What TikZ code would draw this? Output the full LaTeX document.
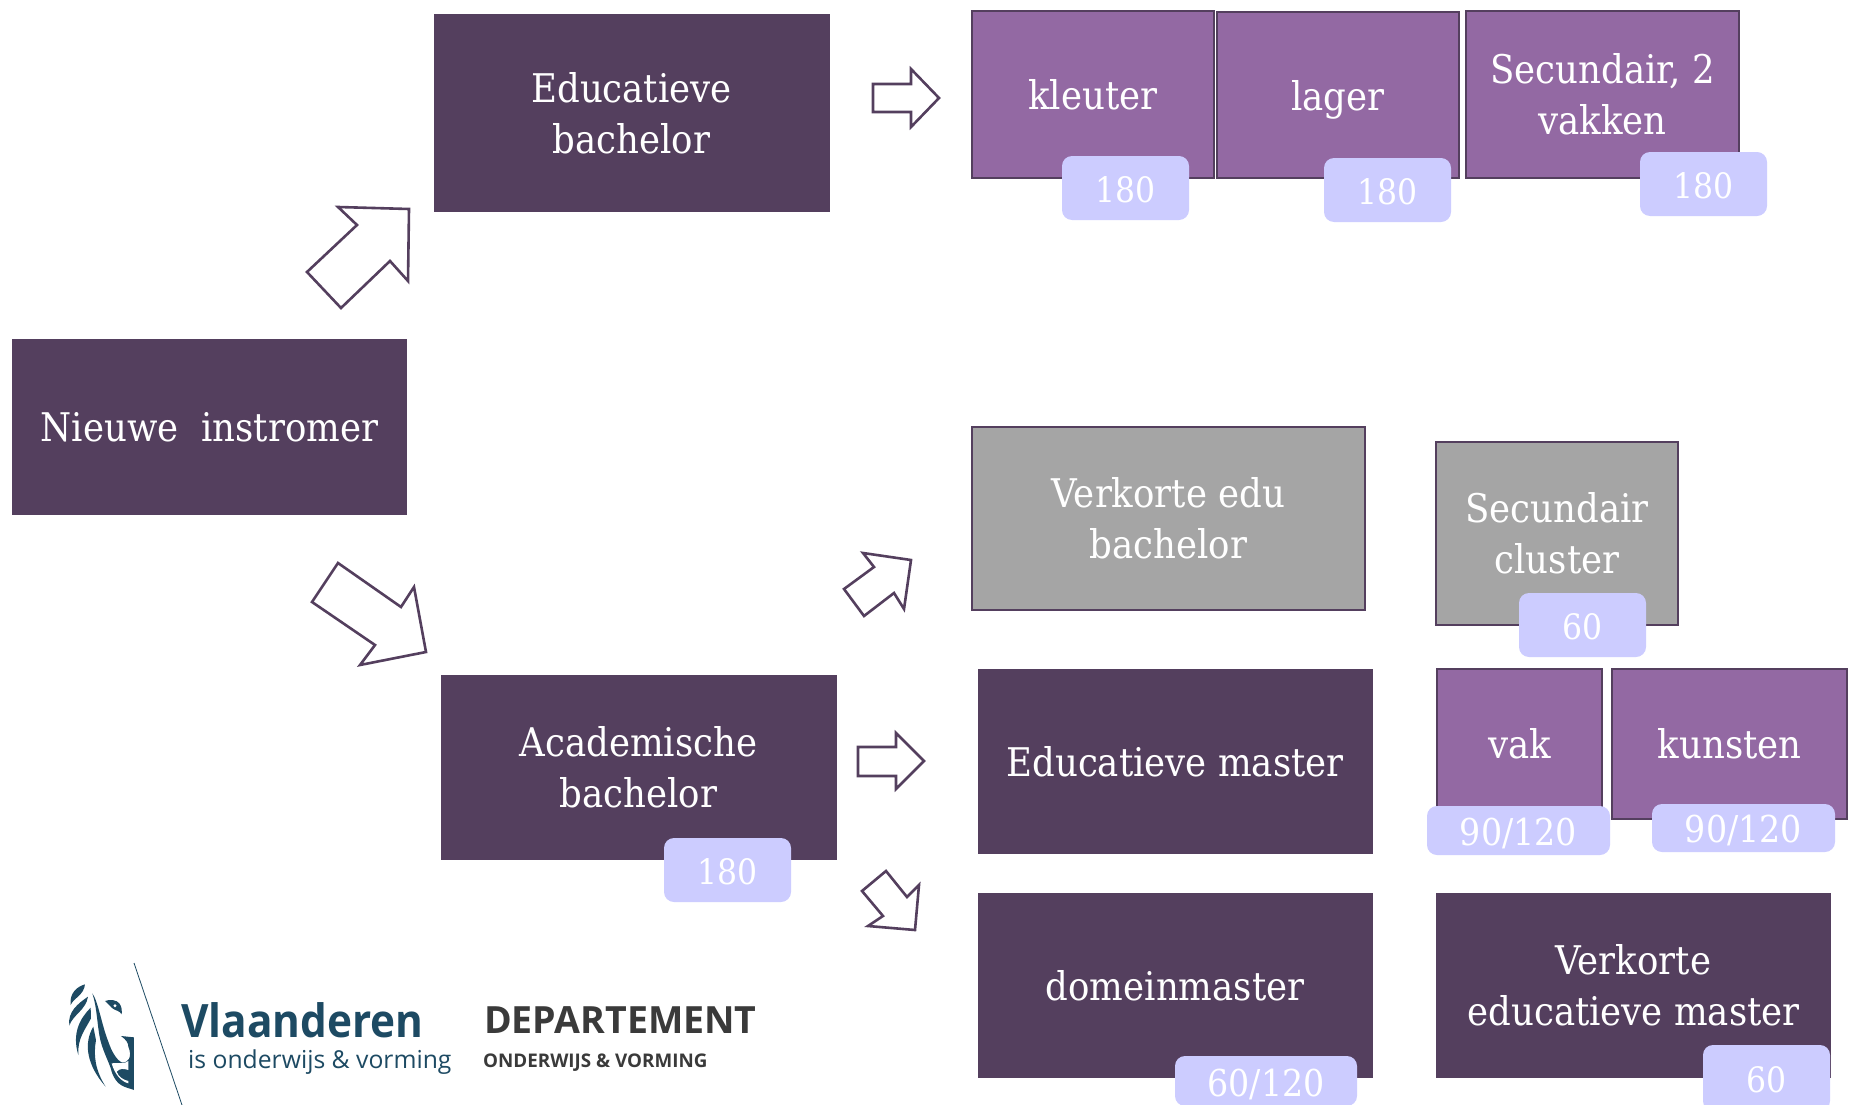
\documentclass[tikz,border=0pt]{standalone}
\usepackage{fontspec}
\setmainfont{DejaVu Serif Condensed}
\newfontfamily\logofont{Open Sans}
\newfontfamily\logonarrow[FakeStretch=0.92]{Open Sans}
\definecolor{dark}{HTML}{543F5E}
\definecolor{mid}{HTML}{9369A3}
\definecolor{grayb}{HTML}{A5A5A5}
\definecolor{badgec}{HTML}{CCCCFF}
\definecolor{logoc}{HTML}{1D4A63}
\definecolor{depc}{HTML}{3A3A3A}
\newcommand{\lowr}[2]{\raisebox{-#1pt}[\height][\depth]{#2}}
\tikzset{
  boxbase/.style={anchor=north west,inner sep=0pt,outer sep=0pt,text=white,align=center,font=\fontsize{39.5}{51}\selectfont},
  darkbox/.style={boxbase,fill=dark},
  midbox/.style={boxbase,fill=mid,draw=dark,line width=2.6pt},
  graybox/.style={boxbase,fill=grayb,draw=dark,line width=2.6pt},
  badge/.style={anchor=north west,inner sep=0pt,outer sep=0pt,fill=badgec,rounded corners=10pt,text=white,font=\fontsize{35}{40}\selectfont},
  fracbadge/.style={badge,font=\fontsize{37}{40}\selectfont},
  blockarrow/.style={draw=dark,line width=2.6pt,fill=white,line join=miter},
  lion/.style={fill=logoc,draw=none}
}
\begin{document}
\begin{tikzpicture}[x=1pt,y=-1pt]
\useasboundingbox (0,0) rectangle (1857,1105);
\fill[white] (0,0) rectangle (1857,1105);
% dark boxes
\node[darkbox,minimum width=395pt,minimum height=176pt] (nieuwe) at (12,339) {Nieuwe\ \ instromer};
\node[darkbox,minimum width=396pt,minimum height=198pt] (edubach) at (433.5,14) {Educatieve\\bachelor};
\node[darkbox,minimum width=396pt,minimum height=185pt] (acabach) at (440.5,675) {Academische\\bachelor};
\node[darkbox,minimum width=395pt,minimum height=185pt] (edumaster) at (977.5,669) {Educatieve master};
\node[darkbox,minimum width=395pt,minimum height=185pt] (domein) at (977.5,893) {domeinmaster};
\node[darkbox,minimum width=395pt,minimum height=185pt] (verkmaster) at (1436,893) {Verkorte\\educatieve master};
% purple boxes
\node[midbox,minimum width=242pt,minimum height=167pt] (kleuter) at (972,11) {kleuter};
\node[midbox,minimum width=242pt,minimum height=166pt] (lager) at (1217,12) {\raisebox{0pt}[\height][0pt]{lager}};
\node[midbox,minimum width=273pt,minimum height=167pt] (sec) at (1466,11) {Secundair, 2\\vakken};
\node[midbox,minimum width=165pt,minimum height=150pt] (vak) at (1437,669) {vak};
\node[midbox,minimum width=235pt,minimum height=150pt] (kunsten) at (1612,669) {kunsten};
% gray boxes
\node[graybox,minimum width=393pt,minimum height=183pt] (verkedu) at (972,427) {Verkorte edu\\bachelor};
\node[graybox,minimum width=242pt,minimum height=183pt] (seccl) at (1436,442) {Secundair\\cluster};
% badges
\node[badge,minimum width=127pt,minimum height=64pt] (b1) at (1062,156) {\lowr{2}{180}};
\node[badge,minimum width=127pt,minimum height=64pt] (b2) at (1324,158) {\lowr{2}{180}};
\node[badge,minimum width=127pt,minimum height=64pt] (b3) at (1640,152) {\lowr{2}{180}};
\node[badge,minimum width=127pt,minimum height=64pt] (b4) at (664,838) {\lowr{2}{180}};
\node[badge,minimum width=127pt,minimum height=64pt] (b5) at (1519,593) {\lowr{2}{60}};
\node[fracbadge,minimum width=183pt,minimum height=49pt] (b6) at (1427,806) {\lowr{3}{90/120}};
\node[fracbadge,minimum width=183pt,minimum height=48pt] (b7) at (1652,804) {\lowr{2}{90/120}};
\node[fracbadge,minimum width=182pt,minimum height=50pt] (b8) at (1175,1056) {\lowr{3}{60/120}};
\node[badge,minimum width=127pt,minimum height=66pt] (b9) at (1703,1045) {\lowr{2}{60}};
% block arrows
\draw[blockarrow] (338,207)--(409,209)--(408,281)--(390,261)--(341,308)--(307,272)--(357,225)--cycle;
\draw[blockarrow] (873,84)--(911,84)--(911,69)--(939,98)--(911,127)--(911,112)--(873,112)--cycle;
\draw[blockarrow] (338,563)--(401,607)--(414,587)--(426,652)--(360,665)--(375,645)--(312,602)--cycle;
\draw[blockarrow] (863,553)--(911,560)--(904,609)--(894,593)--(864,616)--(844,589)--(874,567)--cycle;
\draw[blockarrow] (858,747)--(896,747)--(896,733)--(924,761)--(896,789)--(896,776)--(858,776)--cycle;
\draw[blockarrow] (886,871)--(907,897)--(919,885)--(915,930)--(868,926)--(883,916)--(862,891)--cycle;
% logo: divider and lion
\draw[logoc,line width=0.8pt] (134,963)--(182,1105);
\begin{scope}[shift={(60,975)},x=0.3333pt,y=-0.3333pt]
\fill[lion] (75,28) .. controls (50,35) and (28,55) .. (32,90) .. controls (40,70) and (72,60) .. (75,28) -- cycle;
\fill[lion] (84,65) .. controls (55,85) and (22,110) .. (28,152) .. controls (38,120) and (78,105) .. (84,65) -- cycle;
\fill[lion] (92,98) .. controls (60,130) and (35,175) .. (55,240) .. controls (52,190) and (75,165) .. (93,130) -- cycle;
\fill[lion] (100,155) .. controls (70,205) and (80,270) .. (137,335) .. controls (105,285) and (100,240) .. (108,195) -- cycle;
\fill[lion] (97,55) .. controls (115,80) and (125,150) .. (145,200) .. controls (155,230) and (170,255) .. (185,262) .. controls (205,265) and (218,245) .. (205,215) .. controls (205,205) and (200,195) .. (183,183) -- (222,187) -- (222,345) .. controls (195,335) and (170,335) .. (155,290) .. controls (150,265) and (125,225) .. (118,180) .. controls (110,130) and (110,95) .. (97,55) -- cycle;
\fill[white] (155,265) .. controls (175,262) and (195,268) .. (205,258) -- (205,285) .. controls (190,280) and (180,280) .. (170,290) .. controls (175,305) and (190,315) .. (205,318) -- (205,325) .. controls (185,320) and (165,300) .. (155,265) -- cycle;
\fill[lion] (135,78) .. controls (150,72) and (170,75) .. (178,85) .. controls (186,95) and (186,108) .. (185,118) .. controls (178,105) and (165,108) .. (155,98) .. controls (148,90) and (142,84) .. (135,78) -- cycle;
\fill[white] (165,92) circle (5);
\end{scope}
% logo text
\node[anchor=base west,inner sep=0,text=logoc,font=\logonarrow\fontsize{46}{46}\selectfont\bfseries] (vl) at (181,1037) {Vlaanderen};
\node[anchor=base west,inner sep=0,text=logoc,font=\logofont\fontsize{24.7}{26}\selectfont] (vl2) at (188,1068) {is onderwijs \& vorming};
\node[anchor=base west,inner sep=0,text=depc,font=\logofont\fontsize{37.5}{37}\selectfont\bfseries] (dep) at (484,1033) {DEPARTEMENT};
\node[anchor=base west,inner sep=0,text=depc,font=\logofont\fontsize{18.8}{20}\selectfont\bfseries] (dep2) at (483,1067) {ONDERWIJS \& VORMING};
\end{tikzpicture}
\end{document}
